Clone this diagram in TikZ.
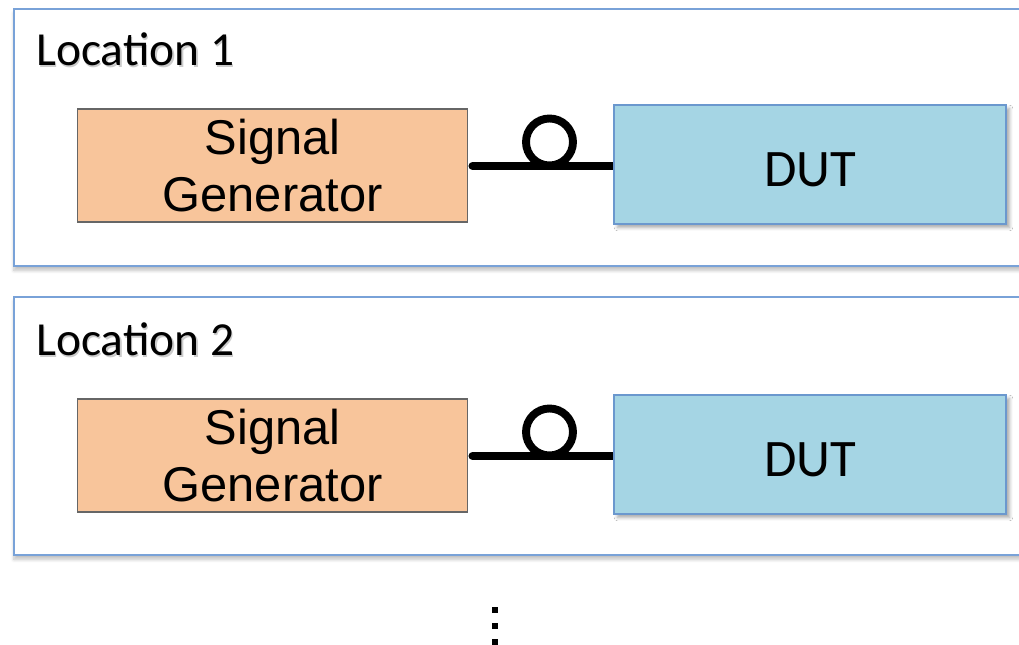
\documentclass[tikz,border=0pt]{standalone}
\usepackage{fontspec}
\setmainfont{Carlito}
\newfontfamily\arialfont{Liberation Sans}
\usepackage{tikz}
\usetikzlibrary{positioning, arrows.meta, shadows.blur}

\definecolor{framecolor}{HTML}{79A2D8}
\definecolor{gencolor}{HTML}{F8C59B}
\definecolor{dutcolor}{HTML}{A5D5E4}
\definecolor{dutborder}{HTML}{6B98CE}

\tikzset{
    location/.style={draw=framecolor, line width=1.2pt, fill=white,
        blur shadow={shadow xshift=0pt, shadow yshift=-2.5pt, shadow blur steps=6, shadow opacity=25}},
    genbox/.style={draw=black!60, line width=0.6pt, fill=gencolor, minimum width=7.82cm, minimum height=2.26cm,
        align=center, font=\arialfont\fontsize{27.8}{32.9}\selectfont},
    dutbox/.style={draw=dutborder, line width=1pt, fill=dutcolor, minimum width=7.84cm, minimum height=2.38cm,
        text height=0.88cm, font=\fontsize{30}{34}\selectfont,
        blur shadow={shadow xshift=2pt, shadow yshift=-2pt, shadow blur steps=5, shadow opacity=35}},
    wire/.style={line width=4.5pt, black},
    loctext/.style={anchor=base west, font=\fontsize{27}{32}\selectfont, inner sep=0pt}
}

\begin{document}
\begin{tikzpicture}[x=0.02cm, y=0.02cm, >=latex]
    \useasboundingbox (0,0) rectangle (1019,645);

    % --- Location 1 ---
    \begin{scope}[shift={(0,290)}]
        \draw[location] (14,89) rectangle (1040,346);
        \node[loctext, text=black!20] (shade1) at (37.5,287) {Location 1};
        \node[loctext] (loc1) at (36,289) {Location 1};

        \node[genbox] (gen1) at (272.5,189.5) {Signal\\Generator};
        \node[dutbox] (dut1) at (810,190.5) {DUT};

        % cable with a loop
        \coordinate (loop1) at (549.5,213);
        \draw[wire, {Round Cap[]}-] (gen1.east |- 0,189) -- (dut1.west |- 0,189);
        \draw[wire] (loop1) circle (0.47cm);
    \end{scope}

    % --- Location 2 ---
    \begin{scope}[shift={(0,0)}]
        \draw[location] (14,90) rectangle (1040,348);
        \node[loctext, text=black!20] (shade2) at (37.5,287) {Location 2};
        \node[loctext] (loc2) at (36,289) {Location 2};

        \node[genbox] (gen2) at (272.5,189.5) {Signal\\Generator};
        \node[dutbox] (dut2) at (810,190.5) {DUT};

        % cable with a loop
        \coordinate (loop2) at (549.5,213);
        \draw[wire, {Round Cap[]}-] (gen2.east |- 0,189) -- (dut2.west |- 0,189);
        \draw[wire] (loop2) circle (0.47cm);
    \end{scope}

    % more locations below
    \foreach \y in {35, 19, 3} {
        \fill (492,\y-3) rectangle (498,\y+3);
    }
\end{tikzpicture}
\end{document}
